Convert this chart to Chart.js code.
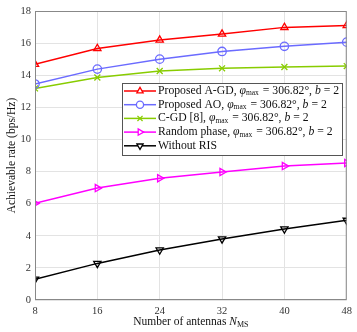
<!DOCTYPE html>
<html><head><meta charset="utf-8">
<script src="https://cdn.jsdelivr.net/npm/chart.js@4"></script>
<style>html,body{margin:0;padding:0;background:#fff}#w{width:357px;height:332px}</style>
</head><body><div id="w"><canvas id="c"></canvas></div>
<script>
const antennas = [8, 16, 24, 32, 40, 48];
const proposedAGD = [14.68, 15.67, 16.19, 16.56, 16.98, 17.10];
const proposedAO = [13.45, 14.38, 15.00, 15.48, 15.80, 16.06];
const cgd = [13.18, 13.86, 14.26, 14.43, 14.51, 14.57];
const randomPhase = [6.02, 6.97, 7.58, 7.97, 8.34, 8.53];
const withoutRIS = [1.29, 2.28, 3.11, 3.80, 4.42, 4.96];
const yTicks = [0, 2, 4, 6, 8, 10, 12, 14, 16, 18];
const legendNames = [
  ["Proposed A-GD, ", true],
  ["Proposed AO, ", true],
  ["C-GD [8], ", true],
  ["Random phase, ", true],
  ["Without RIS", false]
];

const SERIF = "'Liberation Serif', 'DejaVu Serif', serif";
function mk(label, data, color, style, rot) {
  return {
    label, data: data.map((v, i) => ({x: antennas[i], y: v})),
    borderColor: color, backgroundColor: color, borderWidth: 1.5,
    pointStyle: style, pointRotation: rot || 0, pointRadius: 4.2,
    pointBorderWidth: 1.3, pointBackgroundColor: 'rgba(255,255,255,0)',
    pointBorderColor: color, tension: 0
  };
}
const datasets = [
  mk('Proposed A-GD', proposedAGD, '#ff0000', 'triangle', 0),
  mk('Proposed AO', proposedAO, '#6b6bff', 'circle', 0),
  mk('C-GD [8]', cgd, '#88cc00', 'crossRot', 0),
  mk('Random phase', randomPhase, '#ff00ff', 'triangle', 90),
  mk('Without RIS', withoutRIS, '#000000', 'triangle', 180)
];

const FS = 11.7;
const decor = {
  id: 'decor',
  afterDatasetsDraw(chart) {
    const ctx = chart.ctx, a = chart.chartArea;
    ctx.save();
    ctx.strokeStyle = '#888'; ctx.lineWidth = 1;
    ctx.strokeRect(a.left + 0.5, a.top + 0.5, a.right - a.left - 1, a.bottom - a.top - 1);
    // legend
    const lx = 122, ly = 83, lw = 220, lh = 72;
    ctx.fillStyle = '#fff'; ctx.fillRect(lx, ly, lw, lh);
    ctx.strokeStyle = '#555'; ctx.strokeRect(lx + 0.5, ly + 0.5, lw, lh);
    ctx.textBaseline = 'middle';
    legendNames.forEach((n, i) => {
      const ds = datasets[i];
      const y = ly + 8 + i * 13.7;
      ctx.strokeStyle = ds.borderColor; ctx.lineWidth = 1.5;
      ctx.beginPath(); ctx.moveTo(lx + 2, y); ctx.lineTo(lx + 34, y); ctx.stroke();
      ctx.lineWidth = 1.3;
      ctx.fillStyle = '#fff';
      Chart.helpers.drawPoint(ctx, {pointStyle: ds.pointStyle, rotation: ds.pointRotation, radius: 3.6, borderWidth: 1.3}, lx + 18, y);
      ctx.fillStyle = '#111';
      ctx.font = FS + 'px ' + SERIF;
      let x = lx + 36;
      ctx.fillText(n[0], x, y); x += ctx.measureText(n[0]).width;
      if (n[1]) {
        ctx.font = 'italic ' + FS + 'px ' + SERIF;
        ctx.fillText('φ', x, y); x += ctx.measureText('φ').width;
        ctx.font = '7.5px ' + SERIF;
        ctx.fillText('max', x, y + 2.5); x += ctx.measureText('max').width + 1;
        ctx.font = FS + 'px ' + SERIF;
        const t = ' = 306.82°, '; ctx.fillText(t, x, y); x += ctx.measureText(t).width;
        ctx.font = 'italic ' + FS + 'px ' + SERIF;
        ctx.fillText('b', x, y); x += ctx.measureText('b').width;
        ctx.font = FS + 'px ' + SERIF;
        ctx.fillText(' = 2', x, y);
      }
    });
    // x title
    ctx.fillStyle = '#111';
    const p1 = 'Number of antennas ';
    ctx.font = '11.5px ' + SERIF; const w1 = ctx.measureText(p1).width;
    ctx.font = 'italic 11.5px ' + SERIF; const w2 = ctx.measureText('N').width;
    ctx.font = '8px ' + SERIF; const w3 = ctx.measureText('MS').width;
    let x0 = (a.left + a.right) / 2 - (w1 + w2 + w3) / 2;
    const ty = 322;
    ctx.font = '11.5px ' + SERIF; ctx.fillText(p1, x0, ty); x0 += w1;
    ctx.font = 'italic 11.5px ' + SERIF; ctx.fillText('N', x0, ty); x0 += w2;
    ctx.font = '8px ' + SERIF; ctx.fillText('MS', x0, ty + 3);
    ctx.restore();
  }
};

new Chart(document.getElementById('c'), {
  type: 'line',
  data: {datasets},
  options: {
    responsive: true, maintainAspectRatio: false, animation: false,
    layout: {padding: {top: 11, right: 9, left: 5, bottom: 0}},
    plugins: {legend: {display: false}, tooltip: {enabled: false}},
    scales: {
      x: {
        type: 'linear', min: 8, max: 48,
        afterBuildTicks: s => { s.ticks = antennas.map(v => ({value: v})); },
        afterFit: s => { s.height = 32; },
        grid: {color: '#e3e3e3', drawTicks: false, lineWidth: 1},
        border: {display: false},
        ticks: {color: '#333', font: {family: SERIF, size: 10.5}, padding: 5, maxRotation: 0}
      },
      y: {
        min: 0, max: 18,
        afterBuildTicks: s => { s.ticks = yTicks.map(v => ({value: v})); },
        afterFit: s => { s.width = 30; },
        grid: {color: '#e3e3e3', drawTicks: false, lineWidth: 1},
        border: {display: false},
        title: {display: true, text: 'Achievable rate (bps/Hz)', color: '#111', font: {family: SERIF, size: 11.5}, padding: {top: 0, bottom: 0}},
        ticks: {color: '#333', font: {family: SERIF, size: 10.5}, padding: 4}
      }
    }
  },
  plugins: [decor]
});
</script>
</body></html>
